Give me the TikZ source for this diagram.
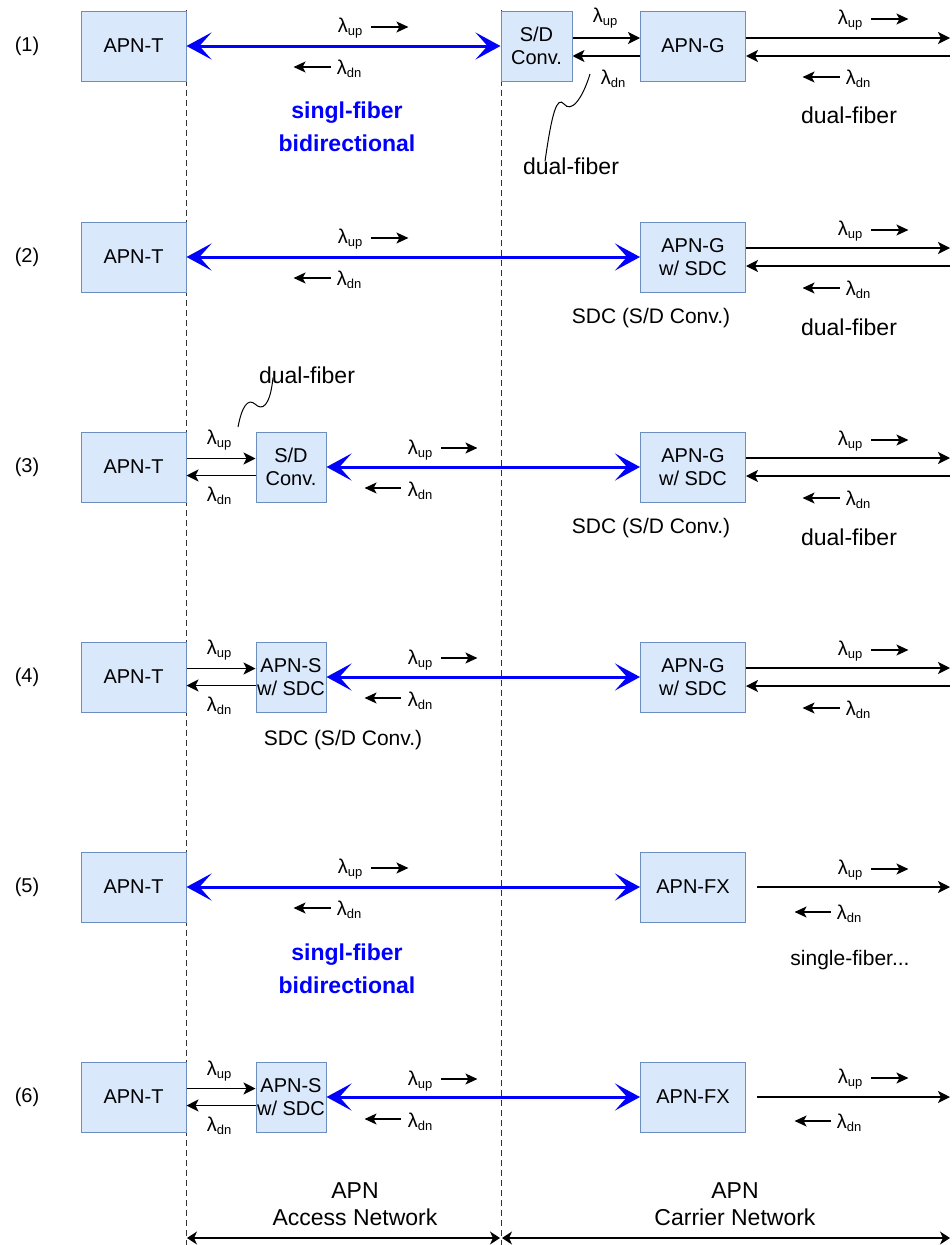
\documentclass[tikz,border=0pt]{standalone}
\usepackage{fontspec}
\setmainfont{Liberation Sans}
\usetikzlibrary{arrows.meta}
\definecolor{boxfill}{HTML}{DAE8FC}
\definecolor{boxdraw}{HTML}{6C8EBF}
\definecolor{fiberblue}{HTML}{0000FF}
\definecolor{dashgray}{HTML}{333333}
\newcommand{\lamup}{λ\raisebox{-3pt}{\fontsize{13}{13}\selectfont up}}
\newcommand{\lamdn}{λ\raisebox{-3pt}{\fontsize{13}{13}\selectfont dn}}
\tikzset{
  apnbox/.style={draw=boxdraw, fill=boxfill, line width=1pt, minimum width=105pt, minimum height=70pt, inner sep=0pt, align=center, font=\fontsize{20}{23}\selectfont},
  convbox/.style={apnbox, minimum width=70pt},
  bluearr/.style={draw=fiberblue, line width=3pt, {Stealth[length=25pt,width=27pt,inset=12pt]}-{Stealth[length=25pt,width=27pt,inset=12pt]}},
  fibarr/.style={draw=black, line width=1.3pt, -{Stealth[length=12pt,width=12pt,inset=3pt]}},
  smallarr/.style={draw=black, line width=1.3pt, -{Stealth[length=12pt,width=11pt,inset=3pt]}},
  spanarr/.style={draw=black, line width=1.3pt, {Stealth[length=10pt,width=13pt,inset=3pt]}-{Stealth[length=10pt,width=13pt,inset=3pt]}},
  lamlbl/.style={inner sep=0pt, font=\fontsize{20}{22}\selectfont},
  rowlbl/.style={inner sep=0pt, font=\fontsize{20}{22}\selectfont},
  note/.style={inner sep=0pt, font=\fontsize{21}{24}\selectfont},
  bignote/.style={inner sep=0pt, font=\fontsize{23}{26}\selectfont},
  bluenote/.style={inner sep=0pt, text=fiberblue, font=\fontsize{23}{28}\selectfont\bfseries},
  netlbl/.style={inner sep=0pt, align=center, font=\fontsize{23}{27}\selectfont},
  divider/.style={draw=dashgray, line width=1pt, dash pattern=on 6pt off 4pt},
  squig/.style={draw=black, line width=1pt}
}
\begin{document}
\begin{tikzpicture}[x=1pt,y=-1pt]
\useasboundingbox (0,0) rectangle (951,1245);

% dividers
\coordinate (d1top) at (186,10);
\coordinate (d1bot) at (186,1245);
\coordinate (d2top) at (501,10);
\coordinate (d2bot) at (501,1245);
\draw[divider] (d1top) -- (d1bot);
\draw[divider] (d2top) -- (d2bot);

% row labels
\foreach \n/\y in {1/46,2/257,3/467,4/677,5/887,6/1097}
  \node[rowlbl] (row\n) at (27,\y) {(\n)};

% APN-T boxes
\foreach \n/\y in {1/46,2/257,3/467,4/677,5/887,6/1097}
  \node[apnbox] (t\n) at (133.5,\y) {APN-T};

% ---------- row 1 ----------
\node[convbox, minimum width=71pt] (c1) at (536.5,46) {S/D\\Conv.};
\node[apnbox] (g1) at (693,46) {APN-G};
\draw[bluearr] (t1.east) -- (c1.west);
\node[lamlbl] (u1) at (350,28) {\lamup};
\draw[smallarr] ([xshift=9pt,yshift=1pt]u1.east) -- ++(37,0);
\node[lamlbl] (n1) at (349,69) {\lamdn};
\draw[smallarr] ([xshift=-6pt,yshift=2pt]n1.west) -- ++(-37,0);
\node[bluenote] (sb1) at (347,113) {singl-fiber};
\node[bluenote] (sb1b) at (347,143) {bidirectional};
\draw[fibarr] ([yshift=8pt]c1.east) -- ([yshift=8pt]g1.west);
\draw[fibarr] ([yshift=-10pt]g1.west) -- ([yshift=-10pt]c1.east);
\node[lamlbl] (mu1) at (605,18) {\lamup};
\node[lamlbl] (mn1) at (613,79) {\lamdn};
\coordinate (e1u) at (950,38);
\coordinate (e1d) at (950,56);
\draw[fibarr] ([yshift=8pt]g1.east) -- (e1u);
\draw[fibarr] (e1d) -- ([yshift=-10pt]g1.east);
\node[lamlbl] (ru1) at (850,20) {\lamup};
\draw[smallarr] ([xshift=9pt,yshift=1pt]ru1.east) -- ++(37,0);
\node[lamlbl] (rn1) at (858,79) {\lamdn};
\draw[smallarr] ([xshift=-6pt,yshift=2pt]rn1.west) -- ++(-37,0);
\node[bignote] (df1) at (849,115) {dual-fiber};
\node[bignote] (df1b) at (571,166) {dual-fiber};
\coordinate (sq1) at (590,74);
\draw[squig] ([xshift=-26pt,yshift=-4pt]df1b.north) .. controls (552,112) and (557,96) .. (564,104) .. controls (571,113) and (582,100) .. (sq1);

% ---------- row 2 ----------
\node[apnbox] (g2) at (693,257) {APN-G\\w/ SDC};
\draw[bluearr] (t2.east) -- (g2.west);
\node[lamlbl] (u2) at (350,239) {\lamup};
\draw[smallarr] ([xshift=9pt,yshift=1pt]u2.east) -- ++(37,0);
\node[lamlbl] (n2) at (349,280) {\lamdn};
\draw[smallarr] ([xshift=-6pt,yshift=2pt]n2.west) -- ++(-37,0);
\coordinate (e2u) at (950,248);
\coordinate (e2d) at (950,266);
\draw[fibarr] ([yshift=9pt]g2.east) -- (e2u);
\draw[fibarr] (e2d) -- ([yshift=-9pt]g2.east);
\node[lamlbl] (ru2) at (850,231) {\lamup};
\draw[smallarr] ([xshift=9pt,yshift=1pt]ru2.east) -- ++(37,0);
\node[lamlbl] (rn2) at (858,290) {\lamdn};
\draw[smallarr] ([xshift=-6pt,yshift=2pt]rn2.west) -- ++(-37,0);
\node[note] (sdc2) at (651,318) {SDC (S/D Conv.)};
\node[bignote] (df2) at (849,327) {dual-fiber};

% ---------- row 3 ----------
\node[convbox] (c3) at (291,467) {S/D\\Conv.};
\node[apnbox] (g3) at (693,467) {APN-G\\w/ SDC};
\draw[fibarr] ([yshift=8.5pt]t3.east) -- ([yshift=8.5pt]c3.west);
\draw[fibarr] ([yshift=-8.5pt]c3.west) -- ([yshift=-8.5pt]t3.east);
\node[lamlbl] (lu3) at (219,440) {\lamup};
\node[lamlbl] (ln3) at (219,496) {\lamdn};
\node[bignote] (df3a) at (307,375) {dual-fiber};
\coordinate (sq3) at (238,427);
\draw[squig] (sq3) .. controls (242,406) and (248,398) .. (255,404) .. controls (262,411) and (270,407) .. ([xshift=-34pt,yshift=6pt]df3a.south);
\draw[bluearr] (c3.east) -- (g3.west);
\node[lamlbl] (u3) at (420,450) {\lamup};
\draw[smallarr] ([xshift=9pt,yshift=2pt]u3.east) -- ++(36,0);
\node[lamlbl] (n3) at (420,491) {\lamdn};
\draw[smallarr] ([xshift=-7pt,yshift=3pt]n3.west) -- ++(-36,0);
\coordinate (e3u) at (950,458);
\coordinate (e3d) at (950,476);
\draw[fibarr] ([yshift=9pt]g3.east) -- (e3u);
\draw[fibarr] (e3d) -- ([yshift=-9pt]g3.east);
\node[lamlbl] (ru3) at (850,441) {\lamup};
\draw[smallarr] ([xshift=9pt,yshift=1pt]ru3.east) -- ++(37,0);
\node[lamlbl] (rn3) at (858,500) {\lamdn};
\draw[smallarr] ([xshift=-6pt,yshift=2pt]rn3.west) -- ++(-37,0);
\node[note] (sdc3) at (651,528) {SDC (S/D Conv.)};
\node[bignote] (df3) at (849,537) {dual-fiber};

% ---------- row 4 ----------
\node[convbox] (s4) at (291,677) {APN-S\\w/ SDC};
\node[apnbox] (g4) at (693,677) {APN-G\\w/ SDC};
\draw[fibarr] ([yshift=8.5pt]t4.east) -- ([yshift=8.5pt]s4.west);
\draw[fibarr] ([yshift=-8.5pt]s4.west) -- ([yshift=-8.5pt]t4.east);
\node[lamlbl] (lu4) at (219,650) {\lamup};
\node[lamlbl] (ln4) at (219,706) {\lamdn};
\node[note] (sdc4) at (343,740) {SDC (S/D Conv.)};
\draw[bluearr] (s4.east) -- (g4.west);
\node[lamlbl] (u4) at (420,660) {\lamup};
\draw[smallarr] ([xshift=9pt,yshift=2pt]u4.east) -- ++(36,0);
\node[lamlbl] (n4) at (420,701) {\lamdn};
\draw[smallarr] ([xshift=-7pt,yshift=3pt]n4.west) -- ++(-36,0);
\coordinate (e4u) at (950,668);
\coordinate (e4d) at (950,686);
\draw[fibarr] ([yshift=9pt]g4.east) -- (e4u);
\draw[fibarr] (e4d) -- ([yshift=-9pt]g4.east);
\node[lamlbl] (ru4) at (850,651) {\lamup};
\draw[smallarr] ([xshift=9pt,yshift=1pt]ru4.east) -- ++(37,0);
\node[lamlbl] (rn4) at (858,710) {\lamdn};
\draw[smallarr] ([xshift=-6pt,yshift=2pt]rn4.west) -- ++(-37,0);

% ---------- row 5 ----------
\node[apnbox] (f5) at (693,887) {APN-FX};
\draw[bluearr] (t5.east) -- (f5.west);
\node[lamlbl] (u5) at (350,869) {\lamup};
\draw[smallarr] ([xshift=9pt,yshift=1pt]u5.east) -- ++(37,0);
\node[lamlbl] (n5) at (349,910) {\lamdn};
\draw[smallarr] ([xshift=-6pt,yshift=2pt]n5.west) -- ++(-37,0);
\node[bluenote] (sb5) at (347,955) {singl-fiber};
\node[bluenote] (sb5b) at (347,985) {bidirectional};
\coordinate (e5) at (950,887);
\draw[fibarr] ([xshift=11pt]f5.east) -- (e5);
\node[lamlbl] (ru5) at (850,870) {\lamup};
\draw[smallarr] ([xshift=9pt,yshift=1pt]ru5.east) -- ++(37,0);
\node[lamlbl] (rn5) at (849,914) {\lamdn};
\draw[smallarr] ([xshift=-6pt,yshift=2pt]rn5.west) -- ++(-36,0);
\node[note] (sf5) at (850,960) {single-fiber...};

% ---------- row 6 ----------
\node[convbox] (s6) at (291,1097) {APN-S\\w/ SDC};
\node[apnbox] (f6) at (693,1097) {APN-FX};
\draw[fibarr] ([yshift=8.5pt]t6.east) -- ([yshift=8.5pt]s6.west);
\draw[fibarr] ([yshift=-8.5pt]s6.west) -- ([yshift=-8.5pt]t6.east);
\node[lamlbl] (lu6) at (219,1071) {\lamup};
\node[lamlbl] (ln6) at (219,1126) {\lamdn};
\draw[bluearr] (s6.east) -- (f6.west);
\node[lamlbl] (u6) at (420,1081) {\lamup};
\draw[smallarr] ([xshift=9pt,yshift=2pt]u6.east) -- ++(36,0);
\node[lamlbl] (n6) at (420,1122) {\lamdn};
\draw[smallarr] ([xshift=-7pt,yshift=3pt]n6.west) -- ++(-36,0);
\coordinate (e6) at (950,1097);
\draw[fibarr] ([xshift=11pt]f6.east) -- (e6);
\node[lamlbl] (ru6) at (850,1079) {\lamup};
\draw[smallarr] ([xshift=9pt,yshift=1pt]ru6.east) -- ++(37,0);
\node[lamlbl] (rn6) at (849,1123) {\lamdn};
\draw[smallarr] ([xshift=-6pt,yshift=2pt]rn6.west) -- ++(-36,0);

% ---------- bottom ----------
\node[netlbl] (acc) at (355,1204) {APN\\Access Network};
\node[netlbl] (car) at (735,1204) {APN\\Carrier Network};
\coordinate (b1) at (187,1238);
\coordinate (b2) at (500,1238);
\coordinate (b3) at (502,1238);
\coordinate (b4) at (950,1238);
\draw[spanarr] (b1) -- (b2);
\draw[spanarr] (b3) -- (b4);
\end{tikzpicture}
\end{document}
